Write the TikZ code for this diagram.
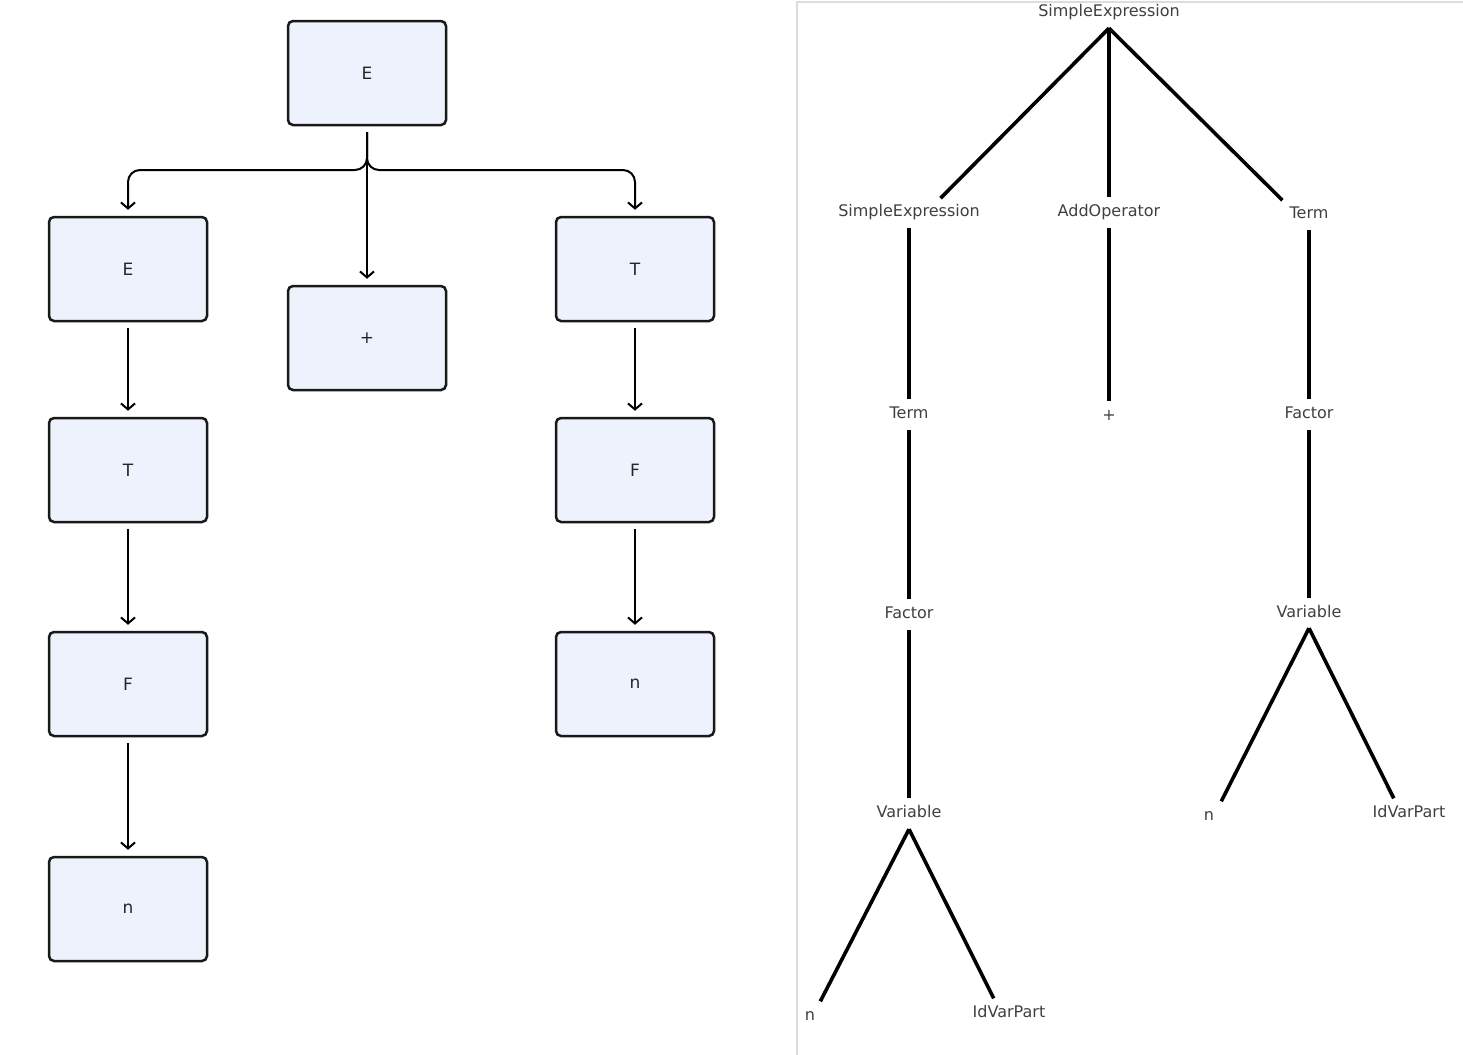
\documentclass[tikz,border=0pt]{standalone}
\usepackage{fontspec}
\setmainfont{DejaVu Sans}
\usetikzlibrary{arrows.meta,calc}
\definecolor{boxfill}{HTML}{EEF2FC}
\definecolor{panelline}{HTML}{DDDDDD}
\begin{document}
\begin{tikzpicture}[x=0.5pt,y=-0.5pt,
  box/.style={draw=black!90, line width=1.25pt, fill=boxfill, rounded corners=2.5pt,
    minimum width=79pt, minimum height=52pt, inner sep=0pt,
    font=\fontsize{8.5}{10}\selectfont, text=black!85},
  arr/.style={-{Straight Barb[length=3pt,width=7pt,line width=1pt]}, line width=1pt,
    shorten <=3pt, shorten >=3pt},
  tn/.style={font=\fontsize{8}{9.5}\selectfont, text=black!75, inner sep=1pt,
    text height=6pt, text depth=1.8pt},
  tl/.style={line width=1.8pt, shorten <=3pt, shorten >=2.5pt},
  tlf/.style={line width=1.8pt, shorten >=2.5pt}]
\useasboundingbox[fill=white] (0,0) rectangle (1463,1055);

% right panel frame
\draw[panelline, line width=1pt] (1470,2) -- (797,2) -- (797,1060);

% left diagram: boxes
\node[box] (e0) at (367,73) {E};
\node[box] (e1) at (128,269) {E};
\node[box] (plus) at (367,338) {+};
\node[box] (t1) at (635,269) {T};
\node[box] (t2) at (128,470) {T};
\node[box] (f1) at (635,470) {F};
\node[box] (f2) at (128,684) {F};
\node[box] (n1) at (635,684) {n};
\node[box] (n2) at (128,909) {n};

% left diagram: arrows
\draw[arr, rounded corners=6pt] (e0.south) -- (e0.south |- 0,170) -| (e1.north);
\draw[arr, rounded corners=6pt] (e0.south) -- (e0.south |- 0,170) -| (t1.north);
\draw[arr] (e0.south) -- (plus.north);
\draw[arr] (e1.south) -- (t2.north);
\draw[arr] (t2.south) -- (f2.north);
\draw[arr] (f2.south) -- (n2.north);
\draw[arr] (t1.south) -- (f1.north);
\draw[arr] (f1.south) -- (n1.north);

% right diagram: nodes
\node[tn] (r0) at (1109,12) {SimpleExpression};
\node[tn] (r1) at (909,212) {SimpleExpression};
\node[tn] (r2) at (1109,212) {AddOperator};
\node[tn] (r3) at (1309,214) {Term};
\node[tn] (a1) at (909,414) {Term};
\node[tn] (a2) at (909,614) {Factor};
\node[tn] (a3) at (909,813) {Variable};
\node[tn] (a4) at (810,1016) {n};
\node[tn] (a5) at (1009,1013) {IdVarPart};
\node[tn] (b1) at (1109,416) {+};
\node[tn] (c1) at (1309,414) {Factor};
\node[tn] (c2) at (1309,613) {Variable};
\node[tn] (c3) at (1209,816) {n};
\node[tn] (c4) at (1409,813) {IdVarPart};

% apex points below the parents
\coordinate (r0b) at ($(r0.south)+(0,6)$);
\coordinate (a3b) at ($(a3.south)+(0,6)$);
\coordinate (c2b) at ($(c2.south)+(0,5)$);

% right diagram: edges
\draw[tlf] (r0b) -- ($(r1.north)+(28,0)$);
\draw[tlf] (r0b) -- (r2.north);
\draw[tlf] (r0b) -- ($(r3.north)+(-23,0)$);
\draw[tl] (r1.south) -- (a1.north);
\draw[tl] (a1.south) -- (a2.north);
\draw[tl] (a2.south) -- (a3.north);
\draw[tlf] (a3b) -- ($(a4.north)+(8,0)$);
\draw[tlf] (a3b) -- ($(a5.north)+(-13,0)$);
\draw[tl] (r2.south) -- (b1.north);
\draw[tl] (r3.south) -- (c1.north);
\draw[tl] (c1.south) -- (c2.north);
\draw[tlf] (c2b) -- ($(c3.north)+(10,0)$);
\draw[tlf] (c2b) -- ($(c4.north)+(-13,0)$);
\end{tikzpicture}
\end{document}
